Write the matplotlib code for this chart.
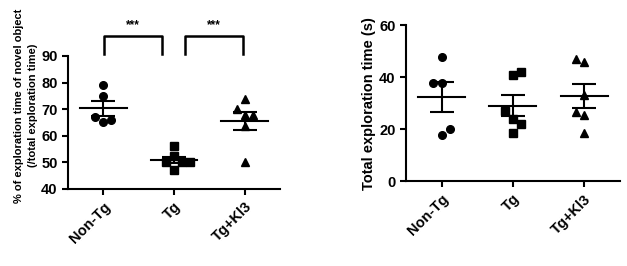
import numpy as np
import matplotlib.pyplot as plt

plt.rcParams["font.family"] = ["Liberation Sans", "DejaVu Sans"]
plt.rcParams["font.weight"] = "bold"

groups = ["Non-Tg", "Tg", "Tg+Kl3"]

# % of exploration time of novel object
novel_nontg = [79, 75, 67, 66, 65]
novel_tg = [56, 52.5, 50, 50, 50, 47]
novel_kl3 = [74, 70, 68, 68, 63.5, 50]

# total exploration time (s)
total_nontg = [48, 38, 38, 18, 20]
total_tg = [41, 42.3, 27.2, 24, 22, 18.8]
total_kl3 = [47, 46, 33.3, 26.8, 25.7, 18.8]

# significance brackets (pair of groups, label)
sig_pairs = [(0, 1, "***"), (1, 2, "***")]

markers = ["o", "s", "^"]

# horizontal scatter offsets (in units of point width)
jit_novel = [[0, 0, -1, 1, 0], [0, 0, -1, 1, 2, 0], [0, -1, 0, 1, 0, 0]]
jit_total = [[0, -1, 0, 0, 1], [0, 1, -1, 0, 1, 0], [-1, 0, 0, -1, 0, 0]]


def dot_plot(ax, data, jit):
    for i, vals in enumerate(data):
        vals = np.array(vals, dtype=float)
        xs = i + np.array(jit[i]) * 0.115
        ax.plot(xs, vals, linestyle="none", marker=markers[i], color="black",
                markersize=5.5, clip_on=False, zorder=3)
        m = vals.mean()
        sem = vals.std(ddof=1) / np.sqrt(len(vals))
        ax.plot([i - 0.33, i + 0.33], [m, m], color="black", lw=1.5, zorder=4)
        ax.errorbar(i, m, yerr=sem, color="black", elinewidth=1.5,
                    capsize=8.5, capthick=1.5, zorder=4)
    ax.set_xlim(-0.5, 2.5)
    ax.set_xticks(range(len(groups)))
    ax.set_xticklabels(groups, rotation=45, ha="right", rotation_mode="anchor",
                       fontsize=10, fontweight="bold")
    for s in ["top", "right"]:
        ax.spines[s].set_visible(False)
    for s in ["left", "bottom"]:
        ax.spines[s].set_linewidth(1.5)
    ax.tick_params(width=1.5, length=4, labelsize=10.5)
    for lab in ax.get_yticklabels():
        lab.set_fontweight("bold")


fig = plt.figure(figsize=(6.27, 2.66), dpi=100)

ax1 = fig.add_axes([0.1085, 0.2895, 0.338, 0.5])
dot_plot(ax1, [novel_nontg, novel_tg, novel_kl3], jit_novel)
ax1.set_ylim(40, 90)
ax1.set_yticks([40, 50, 60, 70, 80, 90])
ax1.set_ylabel("% of exploration time of novel object\n(/total exploration time)",
               fontsize=8.0, fontweight="bold", linespacing=1.5)
ax1.yaxis.set_label_coords(-0.14, 0.628)

for a, b, lab in sig_pairs:
    x0 = a + (0.01 if a == 0 else 0.15)
    x1 = b - (0.17 if a == 0 else 0.02)
    ax1.plot([x0, x0, x1, x1], [90.8, 97.5, 97.5, 90.8], color="black", lw=1.8,
             clip_on=False)
    ax1.text((x0 + x1) / 2, 101.5, lab, ha="center", va="center", fontsize=8.5)

ax2 = fig.add_axes([0.6475, 0.3177, 0.341, 0.5865])
dot_plot(ax2, [total_nontg, total_tg, total_kl3], jit_total)
ax2.set_ylim(0, 60)
ax2.set_yticks([0, 20, 40, 60])
ax2.set_ylabel("Total exploration time (s)", fontsize=10.5, fontweight="bold",
               labelpad=2)

fig.savefig("out.png", dpi=100)
